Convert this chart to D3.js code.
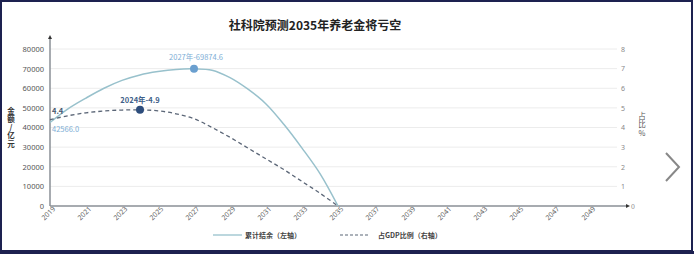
<!DOCTYPE html>
<html>
<head>
<meta charset="utf-8">
<script src="https://cdn.jsdelivr.net/npm/d3@7"></script>
<style>
  body { margin: 0; background: #fff; }
  svg { display: block; font-family: "Noto Sans CJK SC", "Noto Sans", sans-serif; }
  .vtitle { writing-mode: vertical-rl; text-orientation: upright; }
</style>
</head>
<body>
<svg id="chart" width="694" height="254"></svg>
<script>
// data
const years = [2019, 2020, 2021, 2022, 2023, 2024, 2025, 2026, 2027, 2028, 2029, 2030, 2031, 2032, 2033, 2034, 2035];
const balance = [42566.0, 49500, 55000, 60000, 64000, 66800, 68500, 69600, 69874.6, 69200, 65400, 59500, 52000, 41500, 29500, 16500, 0];
const gdpRatio = [4.4, 4.6, 4.75, 4.84, 4.89, 4.9, 4.85, 4.7, 4.45, 4.0, 3.5, 2.95, 2.4, 1.85, 1.25, 0.65, 0];
const xTicks = [2019, 2021, 2023, 2025, 2027, 2029, 2031, 2033, 2035, 2037, 2039, 2041, 2043, 2045, 2047, 2049];
const leftTicks = [0, 10000, 20000, 30000, 40000, 50000, 60000, 70000, 80000];
const rightTicks = [0, 1, 2, 3, 4, 5, 6, 7, 8];

const svg = d3.select("#chart");
const mLeft = 50, mRight = 627, mBottom = 206, mTop = 49;

const x = d3.scaleLinear().domain([2019, 2051]).range([mLeft, mRight - 1]);
const yL = d3.scaleLinear().domain([0, 80000]).range([mBottom, mTop]);
const yR = d3.scaleLinear().domain([0, 8]).range([mBottom, mTop]);

// frame
svg.append("rect").attr("x", 1).attr("y", 1).attr("width", 691).attr("height", 250)
    .attr("fill", "#fff").attr("stroke", "#1d2150").attr("stroke-width", 2);
svg.append("rect").attr("x", 0).attr("y", 251).attr("width", 694).attr("height", 3).attr("fill", "#1d2150");

// title
svg.append("text").attr("x", 315).attr("y", 30).attr("text-anchor", "middle")
    .attr("font-size", 12).attr("font-weight", "bold").attr("fill", "#222")
    .text("社科院预测2035年养老金将亏空");

// grid
svg.append("g").selectAll("line")
    .data(leftTicks.slice(1))
    .join("line")
    .attr("x1", mLeft).attr("x2", 617)
    .attr("y1", d => yL(d)).attr("y2", d => yL(d))
    .attr("stroke", "#ececec").attr("stroke-width", 1);

// left axis labels
const gl = svg.append("g").attr("transform", `translate(${mLeft - 4},0)`)
    .call(d3.axisLeft(yL).tickValues(leftTicks).tickFormat(d3.format("d")).tickSize(0).tickPadding(2));
gl.select(".domain").remove();
gl.selectAll("text").attr("font-size", 7.5).attr("fill", "#555").attr("font-family", "Noto Sans, sans-serif");

// right axis labels
const gr = svg.append("g").attr("transform", "translate(620,0)")
    .call(d3.axisRight(yR).tickValues(rightTicks.slice(1)).tickSize(0).tickPadding(1));
gr.select(".domain").remove();
gr.selectAll("text").attr("font-size", 7).attr("fill", "#888").attr("font-family", "Noto Sans, sans-serif");
svg.append("text").attr("x", 631).attr("y", yR(0) + 2.5).attr("font-size", 7).attr("fill", "#888").text("0");

// x axis labels
const gx = svg.append("g").attr("transform", `translate(0,${mBottom})`)
    .call(d3.axisBottom(x).tickValues(xTicks).tickFormat(d3.format("d")).tickSize(0).tickPadding(4));
gx.select(".domain").remove();
gx.selectAll("text")
    .attr("font-size", 7).attr("fill", "#666").attr("font-family", "Noto Sans, sans-serif")
    .attr("text-anchor", "end").attr("dy", "0.3em").attr("dx", "0.2em")
    .attr("transform", "rotate(-45)");

// axis lines with arrows
svg.append("line").attr("x1", mLeft).attr("x2", mLeft).attr("y1", mBottom).attr("y2", 38)
    .attr("stroke", "#8a8f96").attr("stroke-width", 1.5);
svg.append("path").attr("d", `M${mLeft - 2},39 L${mLeft},35 L${mLeft + 2},39 Z`).attr("fill", "#333");
svg.append("line").attr("x1", mLeft).attr("x2", mRight).attr("y1", mBottom).attr("y2", mBottom)
    .attr("stroke", "#8a8f96").attr("stroke-width", 1.5);
svg.append("path").attr("d", `M${mRight - 1},${mBottom - 2} L${mRight + 3},${mBottom} L${mRight - 1},${mBottom + 2} Z`).attr("fill", "#333");

// axis titles, written vertically
svg.append("text").attr("class", "vtitle")
    .attr("x", 11).attr("y", 107)
    .attr("font-size", 7.5).attr("font-weight", "bold").attr("fill", "#333")
    .attr("letter-spacing", 0.8)
    .text("金额/亿元");
svg.append("text").attr("class", "vtitle")
    .attr("x", 642).attr("y", 112)
    .attr("font-size", 7.5).attr("fill", "#555")
    .attr("letter-spacing", 1)
    .text("占比%");

// lines
const lineL = d3.line().x((d, i) => x(years[i])).y(d => yL(d)).curve(d3.curveCatmullRom.alpha(0.5));
const lineR = d3.line().x((d, i) => x(years[i])).y(d => yR(d)).curve(d3.curveCatmullRom.alpha(0.5));

svg.append("path").datum(balance).attr("d", lineL)
    .attr("fill", "none").attr("stroke", "#98c1cc").attr("stroke-width", 1.5);
svg.append("path").datum(gdpRatio).attr("d", lineR)
    .attr("fill", "none").attr("stroke", "#5b6677").attr("stroke-width", 1.3)
    .attr("stroke-dasharray", "4,3");

// markers and labels
const iPeakL = balance.indexOf(d3.max(balance));
const iPeakR = gdpRatio.indexOf(d3.max(gdpRatio));

svg.append("circle").attr("cx", x(years[iPeakL])).attr("cy", yL(balance[iPeakL])).attr("r", 4)
    .attr("fill", "#6a9fcf");
svg.append("text").attr("x", x(years[iPeakL]) + 2).attr("y", yL(balance[iPeakL]) - 9)
    .attr("text-anchor", "middle").attr("font-size", 7.5).attr("fill", "#7eaed6")
    .text(`${years[iPeakL]}年-${balance[iPeakL].toFixed(1)}`);

svg.append("circle").attr("cx", x(years[iPeakR])).attr("cy", yR(gdpRatio[iPeakR])).attr("r", 4)
    .attr("fill", "#2d4d7c");
svg.append("text").attr("x", x(years[iPeakR])).attr("y", yR(gdpRatio[iPeakR]) - 7)
    .attr("text-anchor", "middle").attr("font-size", 7.5).attr("font-weight", "bold").attr("fill", "#3f5f8a")
    .text(`${years[iPeakR]}年-${gdpRatio[iPeakR]}`);

svg.append("text").attr("x", 52).attr("y", yR(gdpRatio[0]) - 6)
    .attr("font-size", 7.5).attr("font-weight", "bold").attr("fill", "#4a5a70")
    .text(gdpRatio[0].toFixed(1));
svg.append("text").attr("x", 52).attr("y", yL(balance[0]) + 10)
    .attr("font-size", 7.5).attr("fill", "#7eaed6")
    .text(balance[0].toFixed(1));

// legend
const legend = svg.append("g").attr("transform", "translate(0,235)");
legend.append("line").attr("x1", 213).attr("x2", 242).attr("y1", 0).attr("y2", 0)
    .attr("stroke", "#98c1cc").attr("stroke-width", 1.3);
legend.append("text").attr("x", 245).attr("y", 2.5).attr("font-size", 7).attr("font-weight", "bold").attr("fill", "#444")
    .text("累计结余（左轴）");
legend.append("line").attr("x1", 340).attr("x2", 370).attr("y1", 0).attr("y2", 0)
    .attr("stroke", "#5b6677").attr("stroke-width", 1.2).attr("stroke-dasharray", "3,2");
legend.append("text").attr("x", 378).attr("y", 2.5).attr("font-size", 7).attr("font-weight", "bold").attr("fill", "#444")
    .text("占GDP比例（右轴）");

// next arrow at the right
svg.append("path").attr("d", "M666,153 L679,167 L666,181")
    .attr("fill", "none").attr("stroke", "#888").attr("stroke-width", 2);
</script>
</body>
</html>
